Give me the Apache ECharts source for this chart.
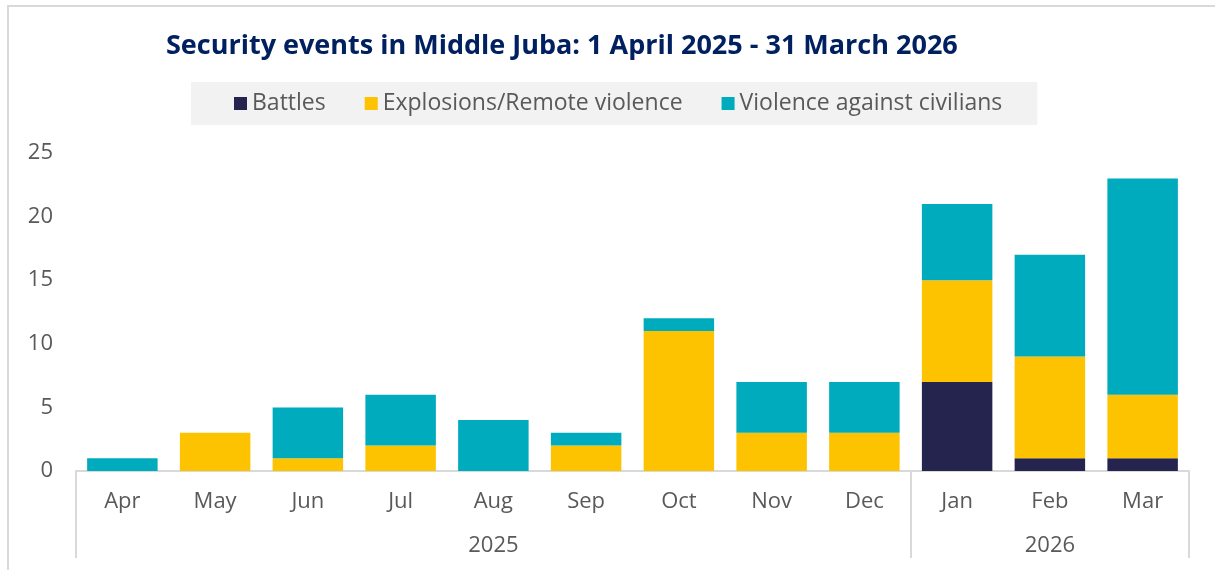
<!DOCTYPE html>
<html>
<head>
<meta charset="utf-8">
<script src="https://cdn.jsdelivr.net/npm/echarts@6/dist/echarts.min.js"></script>
<style>
    html, body { margin: 0; padding: 0; background: #fff; }
    #frame { position: absolute; left: 7px; top: 5px; right: 0; bottom: 0; border-left: 2px solid #d9d9d9; border-top: 2px solid #d9d9d9; }
    #chart { width: 1215px; height: 570px; position: absolute; left: 0; top: 0; }
</style>
</head>
<body>
<div id="frame"></div>
<div id="chart"></div>
<script>
const months = ["Apr", "May", "Jun", "Jul", "Aug", "Sep", "Oct", "Nov", "Dec", "Jan", "Feb", "Mar"];
const battles = [0, 0, 0, 0, 0, 0, 0, 0, 0, 7, 1, 1];
const explosions = [0, 3, 1, 2, 0, 2, 11, 3, 3, 8, 8, 5];
const civilians = [1, 0, 4, 4, 4, 1, 1, 4, 4, 6, 8, 17];
// year groups: boundaries (in month index) and label positions
const yearBounds = [0, 9, 12];
const yearCenters = [4.5, 10.5];
const yearLabels = ["2025", "2026"];

const font = "'Open Sans', sans-serif";
const textColor = "#595959";

const chart = echarts.init(document.getElementById("chart"));

const makeSeries = (name, color, data) => ({
    name: name,
    type: "bar",
    stack: "total",
    barWidth: "76%",
    itemStyle: { color: color },
    emphasis: { disabled: true },
    data: data,
});

chart.setOption({
    animation: false,
    title: {
        text: "Security events in Middle Juba: 1 April 2025 - 31 March 2026",
        left: 161,
        top: 28,
        textStyle: {
            color: "#002060",
            fontSize: 27,
            fontWeight: "bold",
            fontFamily: font,
        },
    },
    legend: {
        left: 191,
        top: 82,
        padding: [10, 35, 10, 43],
        backgroundColor: "#f2f2f2",
        itemWidth: 13,
        itemHeight: 13,
        itemGap: 39,
        icon: "rect",
        textStyle: { color: textColor, fontSize: 23, fontFamily: font },
        data: ["Battles", "Explosions/Remote violence", "Violence against civilians"],
    },
    grid: { left: 76, right: 26, top: 153, bottom: 99 },
    xAxis: [
        {
            type: "category",
            data: months,
            axisLine: { lineStyle: { color: "#d9d9d9", width: 2 } },
            axisTick: { show: false },
            axisLabel: { color: textColor, fontSize: 22, fontFamily: font, margin: 20 },
        },
        {
            type: "value",
            position: "bottom",
            min: 0,
            max: 12,
            axisLine: { show: false },
            splitLine: { show: false },
            axisTick: {
                show: true,
                customValues: yearBounds,
                length: 87,
                lineStyle: { color: "#d9d9d9", width: 2 },
            },
            axisLabel: {
                customValues: yearCenters,
                formatter: (v) => yearLabels[yearCenters.indexOf(v)] || "",
                color: textColor,
                fontSize: 22,
                fontFamily: font,
                margin: 64,
            },
        },
    ],
    yAxis: {
        type: "value",
        min: 0,
        max: 25,
        interval: 5,
        axisLine: { show: false },
        axisTick: { show: false },
        splitLine: { show: false },
        axisLabel: { color: textColor, fontSize: 22, fontFamily: font, margin: 23 },
    },
    series: [
        makeSeries("Battles", "#24244f", battles),
        makeSeries("Explosions/Remote violence", "#fdc300", explosions),
        makeSeries("Violence against civilians", "#00abbd", civilians),
    ],
});
</script>
</body>
</html>
